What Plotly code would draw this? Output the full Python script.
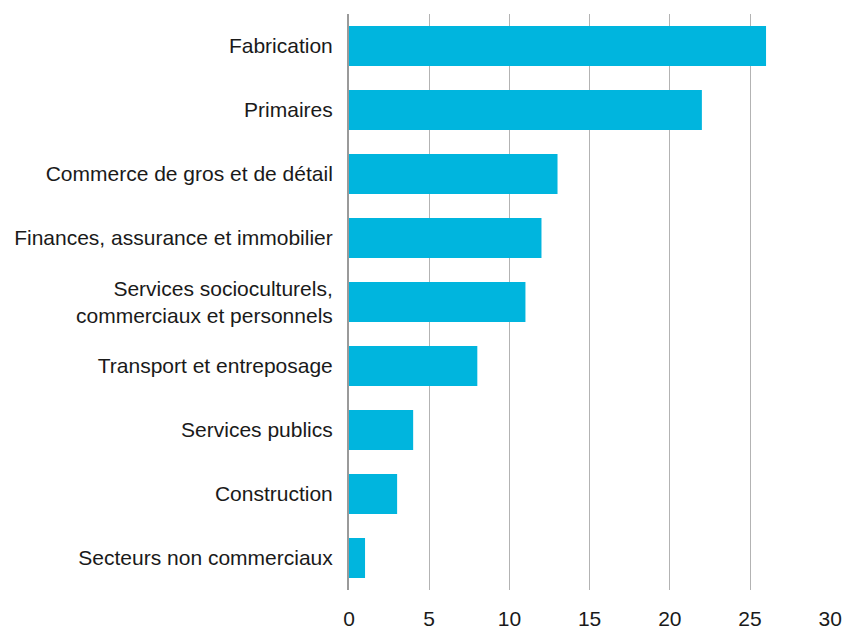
import plotly.graph_objects as go

categories = [
    "Secteurs non commerciaux",
    "Construction",
    "Services publics",
    "Transport et entreposage",
    "Services socioculturels,<br>commerciaux et personnels",
    "Finances, assurance et immobilier",
    "Commerce de gros et de détail",
    "Primaires",
    "Fabrication",
]
values = [1, 3, 4, 8, 11, 12, 13, 22, 26]
x_ticks = [0, 5, 10, 15, 20, 25, 30]

fig = go.Figure(go.Bar(
    x=values,
    y=categories,
    orientation='h',
    marker=dict(color='#00B5DE', line=dict(width=0)),
))

fig.update_layout(
    width=842,
    height=629,
    margin=dict(l=349, r=11, t=14, b=39),
    plot_bgcolor='white',
    paper_bgcolor='white',
    bargap=0.375,
    showlegend=False,
    font=dict(family='Liberation Sans, Arial, sans-serif', size=21, color='#1a1a1a'),
)

fig.update_xaxes(
    range=[0, 30.05],
    tickvals=x_ticks,
    showgrid=True,
    gridcolor='#b3b3b3',
    gridwidth=1,
    zeroline=False,
    showline=False,
    ticks='outside',
    ticklen=10,
    tickcolor='rgba(0,0,0,0)',
    ticklabeloverflow='allow',
    automargin=False,
)

fig.update_yaxes(
    range=[-0.5, 8.5],
    showgrid=False,
    showline=True,
    linecolor='#9a9a9a',
    linewidth=2,
    ticks='outside',
    ticklen=10,
    tickcolor='rgba(0,0,0,0)',
    automargin=False,
)

# drop the default 8px page margin so the figure fills the window exactly
fig.write_html(
    "out.html",
    config={'displayModeBar': False},
    post_script="document.body.style.margin='0'; document.body.style.overflow='hidden';",
)
